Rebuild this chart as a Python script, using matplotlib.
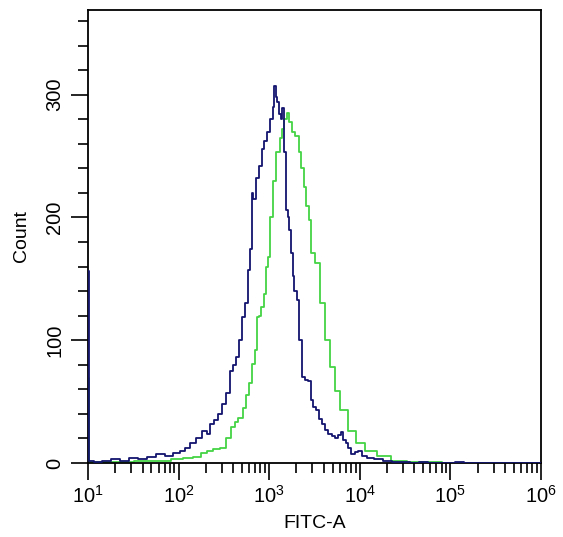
import numpy as np
import matplotlib
matplotlib.use("Agg")
import matplotlib.pyplot as plt
from matplotlib.ticker import LogLocator, MultipleLocator, NullFormatter

plt.rcParams['font.family'] = ['Liberation Sans', 'DejaVu Sans']
plt.rcParams['mathtext.default'] = 'regular'

# Blue (control) histogram: log10(FITC-A) bin positions and counts
blue_log = [1.00, 1.02, 1.10, 1.20, 1.30, 1.40, 1.50, 1.60, 1.70, 1.795, 1.90, 1.97,
            2.049, 2.10, 2.159, 2.22, 2.291, 2.33, 2.369, 2.41, 2.457, 2.50, 2.545,
            2.589, 2.62, 2.645, 2.678, 2.711, 2.755, 2.766, 2.810, 2.821, 2.83, 2.87,
            2.898, 2.932, 2.96, 2.987, 3.031, 3.05, 3.064, 3.08, 3.097, 3.12, 3.141,
            3.152, 3.174, 3.196, 3.215, 3.230, 3.252, 3.263, 3.29, 3.318, 3.340, 3.373,
            3.41, 3.450, 3.472, 3.50, 3.528, 3.56, 3.594, 3.63, 3.671, 3.71, 3.748,
            3.78, 3.804, 3.83, 3.859, 3.89, 3.925, 3.96, 4.002, 4.05, 4.113, 4.2, 4.3,
            4.4, 4.5, 4.6, 4.7, 4.8, 5.0, 5.1, 5.2, 5.5, 6.0]
blue_cnt = [156, 2, 1, 2, 3, 2, 4, 3, 5, 7, 6, 8,
            10, 12, 16, 20, 26, 24, 32, 35, 40, 48, 57,
            75, 80, 86, 100, 119, 130, 157, 174, 220, 215, 232,
            242, 256, 262, 270, 280, 290, 307, 298, 294, 284, 280,
            289, 253, 206, 200, 190, 171, 152, 140, 133, 100, 70,
            68, 67, 51, 46, 43, 36, 32, 27, 24, 22, 20,
            23, 25, 19, 16, 12, 7, 9, 10, 6, 4, 3, 2,
            1, 1, 0, 1, 0, 0, 1, 0, 0, 0]

# Green (stained) histogram
green_log = [1.00, 1.02, 1.20, 1.40, 1.60, 1.80, 2.00, 2.10, 2.203, 2.28, 2.347, 2.42,
             2.490, 2.55, 2.600, 2.64, 2.678, 2.733, 2.76, 2.788, 2.821, 2.865, 2.87,
             2.90, 2.921, 2.954, 2.976, 2.987, 3.03, 3.06, 3.097, 3.13, 3.152, 3.18,
             3.208, 3.230, 3.27, 3.307, 3.340, 3.362, 3.395, 3.417, 3.450, 3.483,
             3.528, 3.583, 3.638, 3.693, 3.748, 3.815, 3.914, 4.002, 4.113, 4.256,
             4.411, 4.6, 4.8, 5.0, 5.5, 6.0]
green_cnt = [69, 1, 1, 1, 2, 2, 3, 4, 5, 8, 10, 11,
             12, 20, 29, 33, 37, 45, 55, 65, 81, 92, 119,
             120, 127, 138, 160, 168, 200, 230, 253, 265, 272, 280,
             285, 278, 270, 266, 253, 240, 225, 209, 198, 171,
             163, 130, 100, 78, 59, 43, 26, 16, 10, 6,
             2, 1, 1, 0, 0, 0]

fig = plt.figure(figsize=(5.63, 5.37), dpi=100)
ax = fig.add_axes([88/563, 1-463/537, 453/563, 453/537])

bx = 10 ** np.array(blue_log)
gx = 10 ** np.array(green_log)
ax.step(gx, green_cnt, where='mid', color='#44d444', lw=1.3, zorder=2)
ax.step(bx, blue_cnt, where='mid', color='#14146e', lw=1.3, zorder=3)

ax.set_xscale('log')
ax.set_xlim(10, 1e6)
ax.set_ylim(0, 369)

ax.xaxis.set_major_locator(LogLocator(base=10, numticks=10))
ax.xaxis.set_minor_locator(LogLocator(base=10, subs=np.arange(2, 10), numticks=100))
ax.xaxis.set_minor_formatter(NullFormatter())
ax.yaxis.set_major_locator(MultipleLocator(100))
ax.yaxis.set_minor_locator(MultipleLocator(20))

ax.tick_params(axis='both', which='major', direction='out', length=12, width=1.2,
               labelsize=14.5, colors='black')
ax.tick_params(axis='both', which='minor', direction='out', length=7, width=1.2)
ax.tick_params(axis='y', which='major', pad=5)
for lab in ax.get_yticklabels():
    lab.set_rotation(90)
    lab.set_va('center')

for s in ax.spines.values():
    s.set_linewidth(1.3)

ax.set_xlabel('FITC-A', fontsize=14, labelpad=6)
ax.set_ylabel('Count', fontsize=14, labelpad=11)

fig.savefig('out.png', dpi=100)
